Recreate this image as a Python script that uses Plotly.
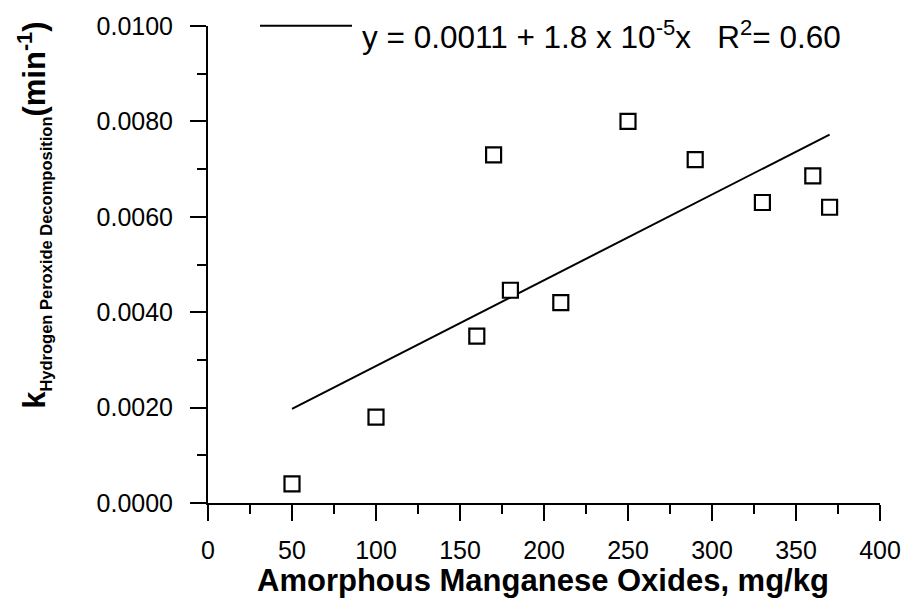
import numpy as np
import plotly.graph_objects as go

# Data
mn_oxides = [50, 100, 160, 170, 180, 210, 250, 290, 330, 360, 370]
k_decomp = [0.0004, 0.0018, 0.0035, 0.0073, 0.00446, 0.0042, 0.0080, 0.0072, 0.0063, 0.00686, 0.0062]
fit_label = "y = 0.0011 + 1.8 x 10<sup>-5</sup>x&nbsp;&nbsp;&nbsp;R<sup>2</sup>= 0.60"

slope, intercept = np.polyfit(mn_oxides, k_decomp, 1)
fit_x = [min(mn_oxides), max(mn_oxides)]
fit_y = [intercept + slope * v for v in fit_x]

FONT = "Liberation Sans, Arial, sans-serif"
WF, HF = 903, 615
X0, X1, Y0, Y1 = 208, 880, 26, 503.4   # plot box in page pixels
L, T = X0, Y0
R, B = WF - X1, HF - Y1

def px(x):
    return (x - X0) / (X1 - X0)

def py(y):
    return (Y1 - y) / (Y1 - Y0)

fig = go.Figure()
fig.add_trace(go.Scatter(x=fit_x, y=fit_y, mode="lines",
                         line=dict(color="black", width=2), showlegend=False))
fig.add_trace(go.Scatter(x=mn_oxides, y=k_decomp, mode="markers",
                         marker=dict(symbol="square", size=15, color="white",
                                     line=dict(color="black", width=2.2)),
                         showlegend=False))

axis_common = dict(showgrid=False, zeroline=False, showline=True, linecolor="black",
                   linewidth=2, ticks="outside", ticklen=16, tickwidth=2, tickcolor="black",
                   automargin=False,
                   tickfont=dict(family=FONT, size=25, color="black"))

fig.update_xaxes(range=[0, 400], dtick=50, tick0=0,
                 minor=dict(dtick=25, ticks="outside", ticklen=9, tickwidth=2, tickcolor="black"),
                 ticklabelstandoff=8,
                 **axis_common)
fig.update_yaxes(range=[0, 0.01], dtick=0.002, tick0=0, tickformat=".4f",
                 minor=dict(dtick=0.001, ticks="outside", ticklen=9, tickwidth=2, tickcolor="black"),
                 ticklabelstandoff=12,
                 **axis_common)

# x axis title
fig.add_annotation(xref="paper", yref="paper", x=px(543), y=py(581),
                   xanchor="center", yanchor="middle", showarrow=False,
                   text="<b>Amorphous Manganese Oxides, mg/kg</b>",
                   font=dict(family=FONT, size=31, color="black"))

# legend sample line + equation
fig.add_shape(type="line", xref="paper", yref="paper",
              x0=px(260), x1=px(352), y0=py(25.7), y1=py(25.7),
              line=dict(color="black", width=2))
fig.add_annotation(xref="paper", yref="paper", x=px(360), y=py(35),
                   xanchor="left", yanchor="middle", showarrow=False,
                   text=fit_label, font=dict(family=FONT, size=31.5, color="black"))

# y axis title
fig.add_annotation(xref="paper", yref="paper", x=px(34), y=py(215),
                   xanchor="center", yanchor="middle", showarrow=False, textangle=-90,
                   text="<b>k<sub><span style='font-size:16.5px'>Hydrogen Peroxide Decomposition</span></sub>(min<sup>-1</sup>)</b>",
                   font=dict(family=FONT, size=31, color="black"))

fig.update_layout(template="none", width=WF, height=HF, autosize=False,
                  margin=dict(l=L, r=R, t=T, b=B, pad=0),
                  plot_bgcolor="white", paper_bgcolor="white",
                  font=dict(family=FONT, color="black"))

fig.write_html("out.html", config={"displayModeBar": False},
               post_script="document.body.style.margin='0';document.body.style.overflow='hidden';")
